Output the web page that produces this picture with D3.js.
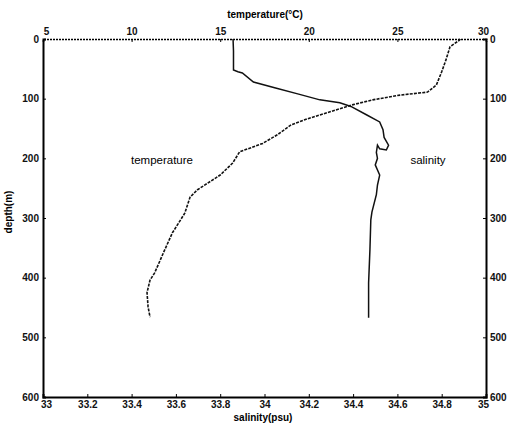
<!DOCTYPE html>
<html>
<head>
<meta charset="utf-8">
<script src="https://d3js.org/d3.v7.min.js"></script>
<style>
  body { margin: 0; background: white; }
  text { font-family: "Liberation Sans", Arial, sans-serif; }
</style>
</head>
<body>
<svg id="chart" width="508" height="428"></svg>
<script>
// temperature profile (depth in m, temperature in degC)
const tempDepth = [0, 2, 13, 35, 55, 77, 89, 94, 102, 110, 122, 134, 144, 161, 175, 189, 208, 228, 253, 265, 292, 325, 358, 392, 404, 425, 449, 466];
const tempValue = [28.55, 28.5, 27.97, 27.74, 27.5, 27.2, 26.7, 25.15, 23.6, 22.5, 21.2, 19.9, 19.0, 18.2, 17.4, 16.1, 15.7, 15.0, 13.7, 13.3, 13.0, 12.3, 11.8, 11.3, 11.04, 10.87, 10.93, 11.04];

// salinity profile (depth in m, salinity in psu)
const salDepth = [0, 20, 52, 55, 57, 72, 82, 92, 102, 107, 113, 127, 139, 152, 165, 178, 186, 184, 178, 190, 200, 211, 228, 245, 261, 290, 303, 353, 409, 467];
const salValue = [33.858, 33.86, 33.86, 33.88, 33.9, 33.95, 34.05, 34.15, 34.25, 34.34, 34.39, 34.46, 34.52, 34.535, 34.54, 34.56, 34.55, 34.52, 34.51, 34.505, 34.51, 34.5, 34.52, 34.51, 34.505, 34.485, 34.48, 34.476, 34.47, 34.47];

const depthTicks = [0, 100, 200, 300, 400, 500, 600];
const tempTicks = [5, 10, 15, 20, 25, 30];
const salTicks = [33, 33.2, 33.4, 33.6, 33.8, 34, 34.2, 34.4, 34.6, 34.8, 35];

const svg = d3.select('#chart');
const mLeft = 43, mRight = 486, mTop = 39, mBottom = 397;

const ys = d3.scaleLinear().domain([0, 600]).range([mTop, mBottom]);
const xt = d3.scaleLinear().domain([5, 30]).range([mLeft, mRight]);
const xs = d3.scaleLinear().domain([33, 35]).range([mLeft, mRight]);

svg.append('rect').attr('width', 508).attr('height', 428).attr('fill', 'white');

// axes
const axFont = g => g.selectAll('text')
   .style('font-size', '10px').style('font-weight', 'bold').attr('fill', '#111');
// nudge the end labels inward, like the original, so corners don't collide
const nudgeEnds = g => {
   const t = g.selectAll('.tick text');
   const n = t.size();
   t.attr('dx', (d, i) => i === 0 ? 3 : (i === n - 1 ? -3 : 0));
};

svg.append('g').attr('transform', `translate(${mLeft},0)`)
   .call(d3.axisLeft(ys).tickValues(depthTicks).tickSize(-3).tickPadding(4).tickFormat(d3.format('d')))
   .call(axFont)
   .call(g => g.select('.domain').attr('stroke-width', 2));

svg.append('g').attr('transform', `translate(${mRight},0)`)
   .call(d3.axisRight(ys).tickValues(depthTicks).tickSize(-3).tickPadding(4).tickFormat(d3.format('d')))
   .call(axFont)
   .call(g => g.select('.domain').attr('stroke-width', 2));

svg.append('g').attr('transform', `translate(0,${mTop})`)
   .call(d3.axisTop(xt).tickValues(tempTicks).tickSize(-3).tickPadding(4))
   .call(axFont)
   .call(nudgeEnds)
   .call(g => g.select('.domain').attr('stroke-width', 1.6).attr('stroke-dasharray', '2,1'));

svg.append('g').attr('transform', `translate(0,${mBottom})`)
   .call(d3.axisBottom(xs).tickValues(salTicks).tickSize(-3).tickPadding(4).tickFormat(d => d3.format('')(+d.toFixed(1))))
   .call(axFont)
   .call(nudgeEnds)
   .call(g => g.select('.domain').attr('stroke-width', 2));

// profiles
const tempLine = d3.line().x((d, i) => xt(tempValue[i])).y(d => ys(d));
const salLine = d3.line().x((d, i) => xs(salValue[i])).y(d => ys(d));

svg.append('path').datum(tempDepth)
   .attr('d', tempLine)
   .attr('fill', 'none').attr('stroke', '#111')
   .attr('stroke-width', 1.6).attr('stroke-dasharray', '3,1.2');

svg.append('path').datum(salDepth)
   .attr('d', salLine)
   .attr('fill', 'none').attr('stroke', '#111')
   .attr('stroke-width', 1.5);

// labels
svg.append('text').attr('x', 265).attr('y', 18).attr('text-anchor', 'middle')
   .style('font-size', '10px').style('font-weight', 'bold').text('temperature(°C)');
svg.append('text').attr('x', 263).attr('y', 421).attr('text-anchor', 'middle')
   .style('font-size', '10px').style('font-weight', 'bold').text('salinity(psu)');
svg.append('text').attr('transform', 'translate(12,212) rotate(-90)').attr('text-anchor', 'middle')
   .style('font-size', '10px').style('font-weight', 'bold').text('depth(m)');

svg.append('text').attr('x', 162).attr('y', 164).attr('text-anchor', 'middle')
   .style('font-size', '11.5px').text('temperature');
svg.append('text').attr('x', 428).attr('y', 164).attr('text-anchor', 'middle')
   .style('font-size', '11.5px').text('salinity');
</script>
</body>
</html>
